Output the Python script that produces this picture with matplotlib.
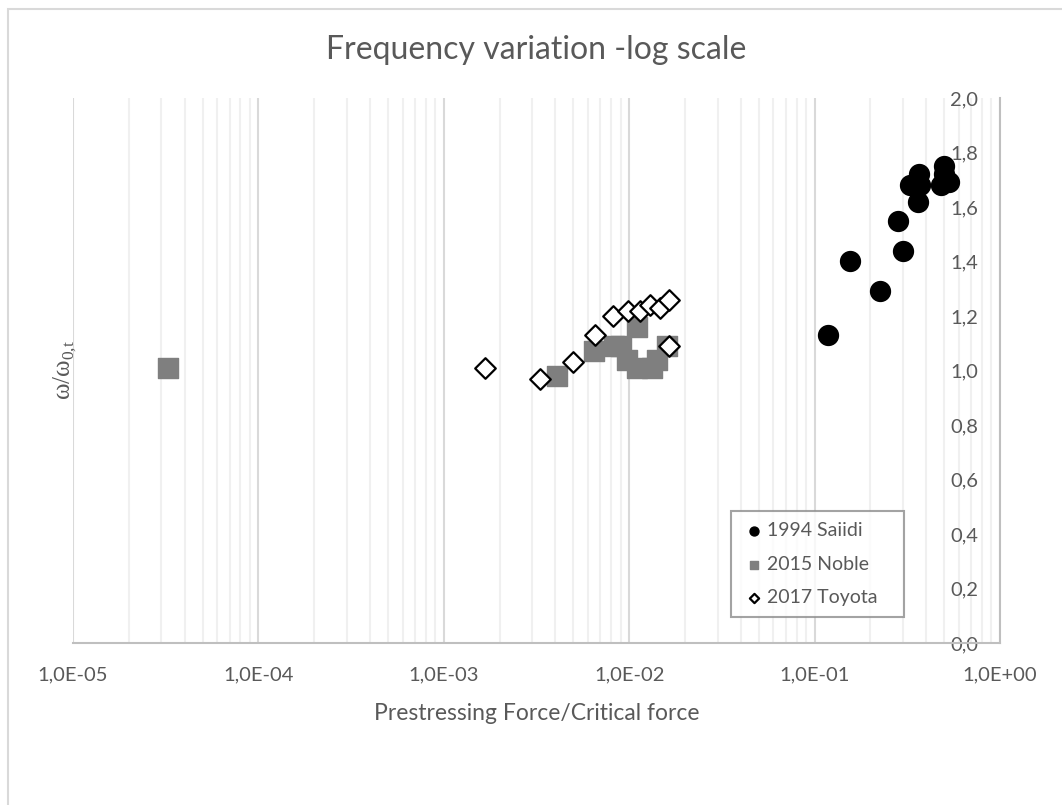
import matplotlib
matplotlib.use("Agg")
import matplotlib.pyplot as plt
from matplotlib.ticker import LogLocator, FuncFormatter, FixedLocator, NullFormatter
from matplotlib.patches import Rectangle

# 1994 Saiidi
saiidi_x = [0.118, 0.156, 0.226, 0.283, 0.301, 0.329, 0.360, 0.365, 0.370, 0.498, 0.498, 0.478, 0.530]
saiidi_y = [1.13, 1.40, 1.29, 1.55, 1.44, 1.68, 1.62, 1.72, 1.68, 1.75, 1.72, 1.68, 1.69]

# 2015 Noble
noble_x = [3.26e-5, 4.07e-3, 6.43e-3, 8.24e-3, 9.0e-3, 9.7e-3, 0.0110, 0.0110, 0.0133, 0.0141, 0.0160]
noble_y = [1.01, 0.98, 1.07, 1.09, 1.09, 1.04, 1.16, 1.01, 1.01, 1.04, 1.09]

# 2017 Toyota
toyota_x = [1.67e-3, 3.31e-3, 4.98e-3, 6.56e-3, 8.18e-3, 9.87e-3, 0.01148, 0.0130, 0.01472, 0.01633, 0.01633]
toyota_y = [1.01, 0.97, 1.03, 1.13, 1.20, 1.22, 1.22, 1.24, 1.23, 1.26, 1.09]

y_ticks = [0.0, 0.2, 0.4, 0.6, 0.8, 1.0, 1.2, 1.4, 1.6, 1.8, 2.0]
x_ticks = [1e-5, 1e-4, 1e-3, 1e-2, 1e-1, 1e0]

txt = "#595959"
plt.rcParams['font.family'] = ['Lato', 'DejaVu Sans']
plt.rcParams['mathtext.fontset'] = 'custom'
plt.rcParams['mathtext.rm'] = 'Liberation Serif'

fig = plt.figure(figsize=(10.62, 8.05), dpi=100)
ax = fig.add_axes([0.0687, 0.2012, 0.8729, 0.6771])

# outer chart border
fig.patches.append(Rectangle((8 / 1062, -0.1), 1.2, 1 - 9 / 805 + 0.1,
                             transform=fig.transFigure, fill=False,
                             edgecolor="#d9d9d9", linewidth=1.5, zorder=0))

ax.scatter(saiidi_x, saiidi_y, s=205, marker='o', color='black', label='1994 Saiidi', zorder=3)
ax.scatter(noble_x, noble_y, s=205, marker='s', color='#7f7f7f', label='2015 Noble', zorder=4)
ax.scatter(toyota_x, toyota_y, s=110, marker='D', facecolor='white', edgecolor='black',
           linewidths=1.6, label='2017 Toyota', zorder=5)

ax.set_xscale('log')
ax.set_xlim(1e-5, 1e0)
ax.set_ylim(0, 2.0)

ax.xaxis.set_major_locator(FixedLocator(x_ticks))
ax.xaxis.set_minor_locator(LogLocator(base=10, subs=range(2, 10), numticks=20))
ax.xaxis.set_minor_formatter(NullFormatter())
ax.xaxis.set_major_formatter(FuncFormatter(lambda v, p: f"{v:.1E}".replace('.', ',')))
ax.grid(True, which='major', axis='x', color='#d9d9d9', linewidth=1.5, zorder=0)
ax.grid(True, which='minor', axis='x', color='#f0f0f0', linewidth=1.5, zorder=0)
ax.set_axisbelow(True)

ax.yaxis.tick_right()
ax.set_yticks(y_ticks)
ax.yaxis.set_major_formatter(FuncFormatter(lambda v, p: f"{v:.1f}".replace('.', ',')))
ax.tick_params(axis='y', length=0, pad=-15.5, labelsize=14.5, labelcolor=txt)
for lab in ax.get_yticklabels():
    lab.set_horizontalalignment('right')
ax.tick_params(axis='x', which='both', length=0, pad=17, labelsize=14.5, labelcolor=txt)

for side in ['top', 'left']:
    ax.spines[side].set_visible(False)
ax.spines['bottom'].set_color('#bfbfbf')
ax.spines['bottom'].set_linewidth(1.5)
ax.spines['right'].set_color('#bfbfbf')
ax.spines['right'].set_linewidth(1.5)

ax.set_title('Frequency variation -log scale', fontsize=23, color=txt, pad=28)
ax.set_xlabel('Prestressing Force/Critical force', fontsize=16.5, color=txt, labelpad=14)
ax.set_ylabel(r'$\mathrm{ω/ω}_{\mathrm{0{,}t}}$', fontsize=18, color=txt, labelpad=-4)

leg = ax.legend(loc='lower left', bbox_to_anchor=(0.71, 0.048, 0.186, 0.196), mode='expand',
                borderaxespad=0, fontsize=14, frameon=True, fancybox=False, borderpad=0.55,
                handletextpad=0.1, handlelength=1.2, labelspacing=0.85, markerscale=0.45)
leg.get_frame().set_edgecolor('#8c8c8c')
leg.get_frame().set_linewidth(1.5)
for t in leg.get_texts():
    t.set_color(txt)

fig.savefig('out.png', dpi=100)
